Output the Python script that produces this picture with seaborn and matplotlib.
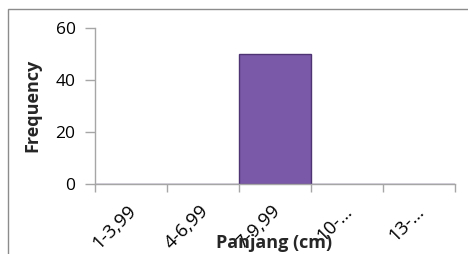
import matplotlib
matplotlib.use("Agg")
import matplotlib.pyplot as plt
import matplotlib.transforms as mtransforms
import seaborn as sns
import pandas as pd
import numpy as np
from matplotlib.patches import Rectangle

categories = ["1-3,99", "4-6,99", "7-9,99", "10-…", "13-…"]
frequency = [0, 0, 50, 0, 0]
y_ticks = [0, 20, 40, 60]

sns.set_style("white")
plt.rcParams['font.family'] = ['Open Sans', 'DejaVu Sans']

df = pd.DataFrame({"Panjang": categories, "Frequency": frequency})

fig = plt.figure(figsize=(4.68, 2.54), dpi=100)
ax = fig.add_axes([95/468, 1-184/254, (455-95)/468, (184-28)/254])

sns.barplot(data=df, x="Panjang", y="Frequency", ax=ax, width=1.0,
            color="#7a59a8", edgecolor="#4f3474", linewidth=1.0, saturation=1)

ax.set_xlim(-0.5, len(categories) - 0.5)
ax.set_ylim(0, 60)
ax.set_yticks(y_ticks)
ax.set_yticklabels([str(v) for v in y_ticks], fontsize=12.5, color="#000000")

ax.set_xticks(np.arange(len(categories)))
ax.set_xticklabels(categories, rotation=45, ha="right", rotation_mode="anchor",
                   fontsize=13.5, color="#000000")
ax.tick_params(axis="x", which="major", bottom=True, length=0, pad=13)
ax.set_xticks(np.arange(-0.5, len(categories)), minor=True)
ax.tick_params(axis="x", which="minor", bottom=True, length=6, width=1,
               color="#a6a6a6", direction="out")
ax.tick_params(axis="y", left=True, length=7, width=1, color="#a6a6a6",
               direction="out", pad=7)

offset = mtransforms.ScaledTranslation(-4/100, 0, fig.dpi_scale_trans)
for lbl in ax.get_xticklabels():
    lbl.set_transform(lbl.get_transform() + offset)

for s in ["top", "right"]:
    ax.spines[s].set_visible(False)
for s in ["left", "bottom"]:
    ax.spines[s].set_color("#a6a6a6")
    ax.spines[s].set_linewidth(1)

ax.set_xlabel("")
ax.set_ylabel("")
fig.text(32/468, 1-105/254, "Frequency", rotation=90, ha="center", va="center",
         fontsize=13, fontweight="bold")
fig.text(274/468, 1-243/254, "Panjang (cm)", ha="center", va="center",
         fontsize=13, fontweight="bold")

fig.patches.append(Rectangle((8/468, -0.1), 1.2, 1-9/254+0.1, transform=fig.transFigure,
                             fill=False, edgecolor="#8c8c8c", linewidth=1))

fig.savefig("out.png", dpi=100)
